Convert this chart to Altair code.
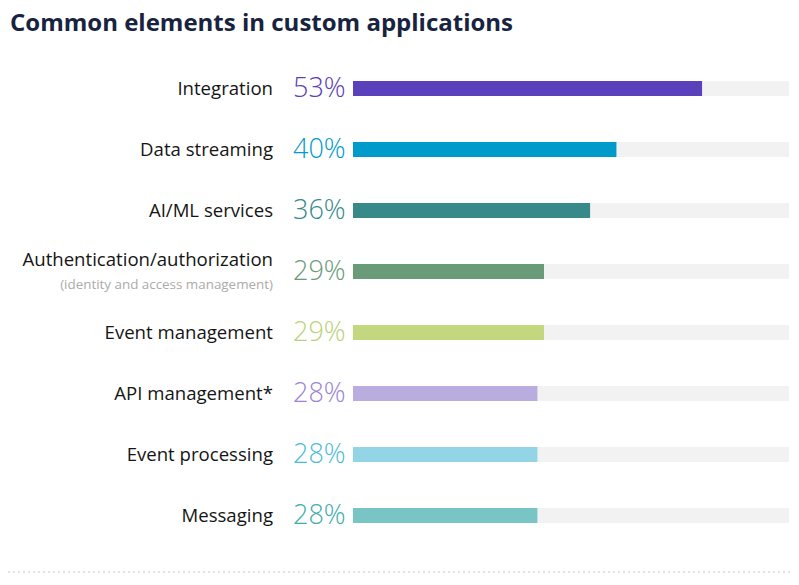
import altair as alt
import pandas as pd

categories = ["Integration", "Data streaming", "AI/ML services", "Authentication/authorization",
              "Event management", "API management*", "Event processing", "Messaging"]
values = [53, 40, 36, 29, 29, 28, 28, 28]
bar_colors = ["#5b40bb", "#009bcb", "#37898a", "#6a9b78", "#c2d77e", "#b9addf", "#93d5e6", "#79c4c5"]
text_colors = ["#5b40bb", "#009bcb", "#37898a", "#6a9b78", "#b9d27a", "#9b83d8", "#4cbcd8", "#40ada9"]
subtitle = "(identity and access management)"
title_text = "Common elements in custom applications"
SCALE_MAX = 66.2

df = pd.DataFrame({
    "cat": categories,
    "value": values,
    "pct": [f"{v}%" for v in values],
    "bar_color": bar_colors,
    "text_color": text_colors,
    "track": [SCALE_MAX] * len(categories),
    "sub": ["", "", "", subtitle, "", "", "", ""],
})

W, H = 436, 488
y = alt.Y("cat:N", sort=categories, axis=None,
          scale=alt.Scale(paddingInner=0, paddingOuter=0))
xs = alt.Scale(domain=[0, SCALE_MAX], nice=False, zero=True)

base = alt.Chart(df)

track = base.mark_bar(size=15, color="#f2f2f2").encode(
    x=alt.X("track:Q", scale=xs, axis=None), y=y)
bars = base.mark_bar(size=15).encode(
    x=alt.X("value:Q", scale=xs, axis=None), y=y,
    color=alt.Color("bar_color:N", scale=None))
pct = base.mark_text(align="left", baseline="middle", font="Open Sans", fontSize=27,
                     fontWeight=300).encode(
    x=alt.value(-60), y=y, text="pct:N", color=alt.Color("text_color:N", scale=None))
labels = base.transform_filter("datum.sub == ''").mark_text(
    align="right", baseline="middle", font="Open Sans", fontSize=18.6, color="#151515").encode(
    x=alt.value(-80), y=y, text="cat:N")
label_auth = base.transform_filter("datum.sub != ''").mark_text(
    align="right", baseline="middle", font="Open Sans", fontSize=18.6, color="#151515", dy=-12).encode(
    x=alt.value(-80), y=y, text="cat:N")
sub_auth = base.transform_filter("datum.sub != ''").mark_text(
    align="right", baseline="middle", font="Open Sans", fontSize=13.4, color="#ababab", dy=13).encode(
    x=alt.value(-80), y=y, text="sub:N")
title = alt.Chart(pd.DataFrame({"t": [title_text]})).mark_text(
    align="left", baseline="middle", font="Open Sans", fontSize=24, fontWeight="bold",
    color="#17233f").encode(x=alt.value(-343), y=alt.value(-34), text="t:N")
dotted = alt.Chart(pd.DataFrame({"a": [0]})).mark_rule(
    color="#c8c8c8", strokeDash=[2, 3], strokeWidth=1).encode(
    x=alt.value(-345), x2=alt.value(W + 2), y=alt.value(514))

chart = alt.layer(track, bars, pct, labels, label_auth, sub_auth, title, dotted).properties(
    width=W, height=H,
    autosize=alt.AutoSizeParams(type="none"),
    padding={"left": 345, "top": 50, "right": 2, "bottom": 27},
).configure_view(stroke=None)

chart.save("out.html", embed_options={"renderer": "svg", "actions": False})
